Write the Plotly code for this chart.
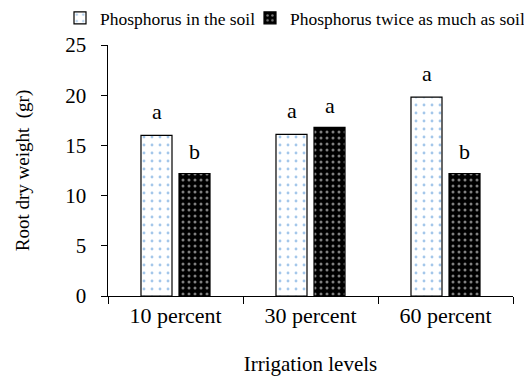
import plotly.graph_objects as go

categories = ["10 percent", "30 percent", "60 percent"]
soil_values = [16.0, 16.1, 19.8]
twice_values = [12.2, 16.8, 12.2]
soil_letters = ["a", "a", "a"]
twice_letters = ["b", "a", "b"]

FF = "Liberation Serif"

fig = go.Figure()
fig.add_trace(go.Bar(
    name="Phosphorus in the soil",
    x=categories, y=soil_values, legend="legend",
    marker=dict(color="white", line=dict(color="black", width=1.2),
                pattern=dict(shape=".", fgcolor="#4a8fd6", bgcolor="white",
                             size=8, solidity=0.1)),
))
fig.add_trace(go.Bar(
    name="Phosphorus twice as much as soil",
    x=categories, y=twice_values, legend="legend2",
    marker=dict(color="black", line=dict(color="black", width=1.2),
                pattern=dict(shape=".", fgcolor="white", bgcolor="black",
                             size=6, solidity=0.2)),
))

for cat, val, lab in zip(categories, soil_values, soil_letters):
    fig.add_annotation(x=cat, y=val, text=lab, showarrow=False, xshift=-19,
                       yshift=24, font=dict(family=FF, size=22, color="black"))
for cat, val, lab in zip(categories, twice_values, twice_letters):
    fig.add_annotation(x=cat, y=val, text=lab, showarrow=False, xshift=19,
                       yshift=22, font=dict(family=FF, size=22, color="black"))

legend_common = dict(orientation="h", xref="container", yref="container",
                     y=1.0, xanchor="left", yanchor="top",
                     font=dict(size=17.5, family=FF, color="black"),
                     itemwidth=30, bgcolor="rgba(0,0,0,0)")

fig.update_layout(
    width=524, height=376,
    margin=dict(l=108, r=11, t=45, b=80),
    paper_bgcolor="white", plot_bgcolor="white",
    barmode="group", bargap=0.437, bargroupgap=0.184,
    font=dict(family=FF, size=16, color="black"),
    showlegend=True,
    legend=dict(x=60 / 524, **legend_common),
    legend2=dict(x=250 / 524, **legend_common),
    xaxis=dict(
        title=dict(text="Irrigation levels", font=dict(size=21, family=FF, color="black"), standoff=36),
        showline=True, linecolor="black", linewidth=1,
        ticks="outside", tickson="boundaries", ticklen=7, tickcolor="black",
        tickfont=dict(size=22, family=FF, color="black"), showgrid=False,
        automargin=False,
    ),
    yaxis=dict(
        title=dict(text="Root dry weight  (gr)", font=dict(size=19, family=FF, color="black"), standoff=30),
        range=[0, 25], dtick=5,
        showline=True, linecolor="black", linewidth=1,
        ticks="outside", ticklen=6, tickcolor="black",
        ticksuffix="\u00a0\u00a0",
        tickfont=dict(size=21, family=FF, color="black"), showgrid=False, zeroline=False,
        automargin=False,
    ),
)

fig.write_html("out.html")
